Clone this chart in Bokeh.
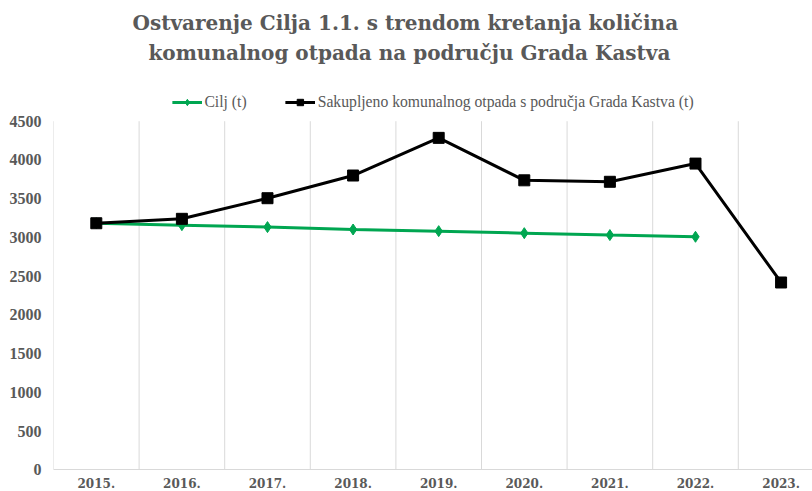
import math
from bokeh.plotting import figure
from bokeh.models import (Range1d, FixedTicker, Legend, LegendItem, Title)
from bokeh.embed import file_html
from bokeh.resources import INLINE

# ---- data ----
years = ["2015.", "2016.", "2017.", "2018.", "2019.", "2020.", "2021.", "2022.", "2023."]
cilj = [3183, 3158, 3133, 3102, 3081, 3055, 3030, 3008, float("nan")]
sakupljeno = [3183, 3240, 3506, 3799, 4285, 3737, 3718, 3953, 2418]
y_ticks = [0, 500, 1000, 1500, 2000, 2500, 3000, 3500, 4000, 4500]

title_line1 = "Ostvarenje Cilja 1.1. s trendom kretanja količina"
title_line2 = "komunalnog otpada na području Grada Kastva"
label_cilj = "Cilj (t)"
label_sak = "Sakupljeno komunalnog otpada s područja Grada Kastva (t)"

GRAY = "#595959"
GREEN = "#00A651"
GRID = "#D9D9D9"

x = list(range(len(years)))
y_max = y_ticks[-1]
bounds = [i - 0.5 for i in range(len(years) + 1)]

p = figure(width=812, height=491, output_backend="svg", toolbar_location=None,
           x_range=Range1d(-0.5, 8.367), y_range=Range1d(-280, 4961),
           min_border_left=53, min_border_right=0, min_border_top=85,
           min_border_bottom=0, title=None)
p.outline_line_color = None
p.background_fill_color = "white"
p.border_fill_color = "white"

# axes
p.xaxis.fixed_location = 0
p.xaxis.ticker = FixedTicker(ticks=x)
p.xaxis.major_label_overrides = {i: years[i] for i in x}
p.xaxis.major_label_text_font = "DejaVu Serif"
p.xaxis.major_label_text_font_style = "bold"
p.xaxis.major_label_text_font_size = "12px"
p.xaxis.major_label_text_color = GRAY
p.xaxis.major_tick_line_color = None
p.xaxis.minor_tick_line_color = None
p.xaxis.major_tick_out = 0
p.xaxis.major_tick_in = 0
p.xaxis.axis_line_color = GRID
p.xaxis.axis_line_width = 1
p.xaxis.major_label_standoff = 8

p.yaxis.ticker = FixedTicker(ticks=y_ticks)
p.yaxis.major_label_text_font = "Liberation Serif"
p.yaxis.major_label_text_font_style = "bold"
p.yaxis.major_label_text_font_size = "16px"
p.yaxis.major_label_text_color = GRAY
p.yaxis.major_tick_line_color = None
p.yaxis.minor_tick_line_color = None
p.yaxis.major_tick_out = 0
p.yaxis.major_tick_in = 0
p.yaxis.axis_line_color = None
p.yaxis.major_label_standoff = 12

p.xgrid.grid_line_color = None
p.ygrid.grid_line_color = None

# vertical category separators from 0 to the top tick
p.segment(x0=bounds, y0=[0] * len(bounds), x1=bounds, y1=[y_max] * len(bounds),
          line_color=GRID, line_width=1)

# series
l1 = p.line(x, cilj, line_color=GREEN, line_width=3)
m1 = p.scatter(x, cilj, marker="diamond", size=11, fill_color=GREEN, line_color=GREEN)
l2 = p.line(x, sakupljeno, line_color="black", line_width=3)
m2 = p.scatter(x, sakupljeno, marker="square", size=11, fill_color="black", line_color="black")

legend = Legend(items=[LegendItem(label=label_cilj, renderers=[l1, m1]),
                       LegendItem(label=label_sak, renderers=[l2, m2])],
                orientation="horizontal", location="top_center",
                label_text_font="Liberation Serif", label_text_font_size="15.7px",
                label_text_color=GRAY, glyph_width=30, glyph_height=16,
                label_standoff=3, spacing=38, padding=0, margin=8,
                border_line_color=None, background_fill_alpha=0)
p.add_layout(legend)

t2 = Title(text=title_line2, align="left", offset=95, standoff=41,
           text_font="DejaVu Serif", text_font_style="bold",
           text_font_size="20px", text_color=GRAY)
t1 = Title(text=title_line1, align="left", offset=79, standoff=-33,
           text_font="DejaVu Serif", text_font_style="bold",
           text_font_size="20px", text_color=GRAY)
p.add_layout(t2, "above")
p.add_layout(t1, "above")

open("out.html", "w").write(file_html(p, INLINE))
